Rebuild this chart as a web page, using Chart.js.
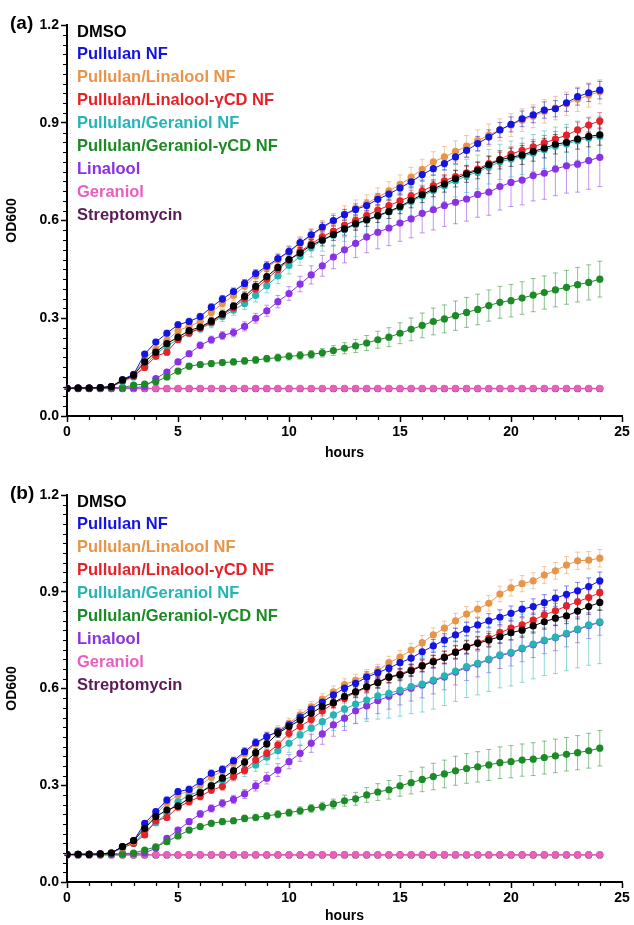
<!DOCTYPE html>
<html lang="en">
<head>
<meta charset="UTF-8">
<title>OD600 growth curves</title>
<script src="https://cdn.jsdelivr.net/npm/chart.js"></script>
<style>
  body { margin: 0; background: #fff; }
  canvas { position: absolute; left: 0; }
</style>
</head>
<body>
<canvas id="grafA" width="634" height="462" style="top:0"></canvas>
<canvas id="grafB" width="634" height="463" style="top:462px"></canvas>
<script>
// ---- eixos ----
const hours = [0,0.5,1,1.5,2,2.5,3,3.5,4,4.5,5,5.5,6,6.5,7,7.5,8,8.5,9,9.5,10,10.5,11,11.5,12,
  12.5,13,13.5,14,14.5,15,15.5,16,16.5,17,17.5,18,18.5,19,19.5,20,20.5,21,21.5,22,22.5,23,23.5,24];
const xTicks = [0, 5, 10, 15, 20, 25];
const yTicks = [0.0, 0.3, 0.6, 0.9, 1.2];

const seriesNames = ['DMSO', 'Pullulan NF', 'Pullulan/Linalool NF', 'Pullulan/Linalool-γCD NF',
  'Pullulan/Geraniol NF', 'Pullulan/Geraniol-γCD NF', 'Linalool', 'Geraniol', 'Streptomycin'];
const seriesColors = ['#000000', '#1414e0', '#e8954a', '#e42228', '#26b4b4', '#1c8a26', '#8a30e6', '#e860bc', '#5c1a56'];

// ---- painel (a) ----
const aDMSO = [0.085,0.086,0.086,0.087,0.09,0.11,0.125,0.166,0.196,0.222,0.242,0.262,0.273,0.291,0.313,0.337,0.367,0.398,0.428,0.456,0.48,0.5,0.524,0.54,0.557,0.574,0.59,0.602,0.615,0.628,0.643,0.662,0.679,0.697,0.712,0.728,0.743,0.754,0.771,0.786,0.794,0.801,0.812,0.822,0.834,0.84,0.85,0.858,0.863];
const aPullulan = [0.085,0.086,0.086,0.087,0.09,0.112,0.128,0.19,0.227,0.254,0.28,0.29,0.305,0.334,0.359,0.382,0.407,0.437,0.46,0.483,0.505,0.532,0.556,0.58,0.6,0.618,0.634,0.646,0.665,0.681,0.7,0.719,0.741,0.759,0.775,0.795,0.815,0.836,0.856,0.878,0.895,0.912,0.924,0.939,0.943,0.961,0.98,0.992,1.0];
const aPulLin = [0.085,0.086,0.086,0.087,0.09,0.11,0.127,0.175,0.205,0.232,0.262,0.275,0.29,0.318,0.345,0.37,0.398,0.43,0.455,0.48,0.503,0.53,0.553,0.577,0.598,0.62,0.637,0.652,0.672,0.69,0.71,0.733,0.757,0.78,0.795,0.812,0.828,0.845,0.862,0.878,0.893,0.908,0.92,0.935,0.945,0.958,0.972,0.985,0.995];
const aPulLinCD = [0.085,0.086,0.086,0.087,0.09,0.108,0.122,0.149,0.183,0.196,0.235,0.255,0.27,0.288,0.31,0.332,0.36,0.39,0.42,0.45,0.478,0.505,0.528,0.55,0.567,0.585,0.6,0.615,0.632,0.646,0.66,0.675,0.69,0.707,0.722,0.735,0.746,0.758,0.775,0.788,0.804,0.815,0.826,0.838,0.85,0.862,0.878,0.893,0.906];
const aPulGer = [0.085,0.086,0.086,0.087,0.09,0.105,0.12,0.155,0.19,0.215,0.235,0.255,0.268,0.285,0.305,0.325,0.345,0.37,0.4,0.43,0.462,0.49,0.518,0.538,0.555,0.572,0.588,0.6,0.613,0.626,0.64,0.658,0.675,0.692,0.707,0.722,0.737,0.749,0.765,0.78,0.789,0.797,0.807,0.817,0.828,0.835,0.845,0.853,0.858];
const aPulGerCD = [0.085,0.085,0.085,0.085,0.086,0.087,0.095,0.098,0.105,0.12,0.138,0.153,0.158,0.161,0.164,0.166,0.169,0.172,0.176,0.179,0.183,0.186,0.189,0.194,0.201,0.208,0.215,0.224,0.234,0.242,0.254,0.266,0.278,0.29,0.298,0.308,0.318,0.327,0.339,0.349,0.354,0.362,0.371,0.379,0.387,0.395,0.403,0.41,0.42];
const aLinalool = [0.085,0.085,0.085,0.085,0.086,0.086,0.087,0.09,0.115,0.135,0.166,0.191,0.217,0.234,0.247,0.256,0.275,0.3,0.323,0.351,0.376,0.405,0.433,0.461,0.488,0.51,0.53,0.549,0.564,0.577,0.592,0.605,0.622,0.633,0.646,0.656,0.666,0.68,0.687,0.704,0.717,0.724,0.738,0.745,0.758,0.768,0.773,0.784,0.794];
const aGeraniol = [0.085,0.085,0.085,0.085,0.085,0.085,0.085,0.085,0.085,0.085,0.085,0.085,0.085,0.085,0.085,0.085,0.085,0.085,0.085,0.085,0.085,0.085,0.085,0.085,0.085,0.085,0.085,0.085,0.085,0.085,0.085,0.085,0.085,0.085,0.085,0.085,0.085,0.085,0.085,0.085,0.085,0.085,0.085,0.085,0.085,0.085,0.085,0.085,0.085];
const aStrepto = [0.084,0.084,0.084,0.084,0.084,0.084,0.084,0.084,0.084,0.084,0.084,0.084,0.084,0.084,0.084,0.084,0.084,0.084,0.084,0.084,0.084,0.084,0.084,0.084,0.084,0.084,0.084,0.084,0.084,0.084,0.084,0.084,0.084,0.084,0.084,0.084,0.084,0.084,0.084,0.084,0.084,0.084,0.084,0.084,0.084,0.084,0.084,0.084,0.084];

const aErrDMSO = [0.003,0.003,0.003,0.003,0.004,0.005,0.006,0.008,0.009,0.01,0.01,0.01,0.011,0.011,0.012,0.012,0.013,0.014,0.015,0.015,0.016,0.016,0.017,0.018,0.018,0.019,0.02,0.02,0.021,0.022,0.022,0.023,0.024,0.024,0.025,0.025,0.026,0.026,0.027,0.028,0.028,0.029,0.03,0.03,0.03,0.03,0.031,0.032,0.032];
const aErrPullulan = [0.003,0.003,0.003,0.003,0.004,0.005,0.006,0.008,0.008,0.009,0.009,0.01,0.01,0.01,0.011,0.011,0.012,0.012,0.013,0.013,0.014,0.014,0.015,0.015,0.016,0.016,0.017,0.017,0.018,0.018,0.019,0.019,0.02,0.02,0.02,0.021,0.021,0.022,0.022,0.023,0.023,0.024,0.024,0.025,0.025,0.026,0.026,0.027,0.027];
const aErrPulLin = [0.003,0.003,0.003,0.003,0.004,0.005,0.006,0.008,0.009,0.01,0.01,0.011,0.012,0.013,0.014,0.015,0.016,0.017,0.018,0.019,0.02,0.021,0.022,0.023,0.024,0.025,0.026,0.027,0.028,0.029,0.03,0.03,0.031,0.031,0.032,0.032,0.033,0.033,0.034,0.034,0.035,0.035,0.035,0.036,0.036,0.036,0.037,0.037,0.037];
const aErrPulLinCD = [0.003,0.003,0.003,0.003,0.004,0.005,0.006,0.008,0.008,0.009,0.009,0.01,0.01,0.01,0.011,0.011,0.012,0.012,0.012,0.013,0.013,0.014,0.014,0.015,0.015,0.015,0.016,0.016,0.017,0.017,0.018,0.018,0.018,0.019,0.019,0.02,0.02,0.02,0.021,0.021,0.022,0.022,0.022,0.023,0.023,0.024,0.024,0.024,0.025];
const aErrPulGer = [0.003,0.003,0.003,0.003,0.004,0.005,0.006,0.008,0.009,0.01,0.011,0.012,0.013,0.014,0.015,0.016,0.018,0.02,0.022,0.024,0.026,0.028,0.03,0.032,0.034,0.036,0.038,0.04,0.042,0.043,0.045,0.046,0.047,0.048,0.049,0.05,0.051,0.052,0.053,0.054,0.055,0.056,0.057,0.058,0.059,0.06,0.06,0.061,0.062];
const aErrPulGerCD = [0.002,0.002,0.002,0.002,0.003,0.003,0.004,0.005,0.006,0.007,0.008,0.008,0.008,0.009,0.009,0.009,0.01,0.01,0.01,0.011,0.011,0.012,0.012,0.013,0.015,0.017,0.02,0.023,0.026,0.029,0.032,0.035,0.038,0.041,0.043,0.045,0.046,0.047,0.048,0.049,0.05,0.05,0.051,0.051,0.052,0.052,0.053,0.054,0.055];
const aErrLinalool = [0.002,0.002,0.002,0.002,0.003,0.003,0.004,0.005,0.006,0.007,0.008,0.009,0.01,0.011,0.012,0.013,0.014,0.015,0.017,0.019,0.021,0.024,0.028,0.032,0.036,0.04,0.044,0.048,0.051,0.054,0.056,0.058,0.06,0.062,0.064,0.066,0.068,0.07,0.071,0.072,0.074,0.076,0.078,0.08,0.082,0.084,0.086,0.088,0.09];
const aErrGeraniol = [0.002,0.002,0.002,0.002,0.002,0.002,0.002,0.002,0.002,0.002,0.002,0.002,0.002,0.002,0.002,0.002,0.002,0.002,0.002,0.002,0.002,0.002,0.002,0.002,0.002,0.002,0.002,0.002,0.002,0.002,0.002,0.002,0.002,0.002,0.002,0.002,0.002,0.002,0.002,0.002,0.002,0.002,0.002,0.002,0.002,0.002,0.002,0.002,0.002];
const aErrStrepto = aErrGeraniol;

// ---- painel (b) ----
const bDMSO = [0.085,0.086,0.086,0.087,0.09,0.11,0.128,0.166,0.203,0.223,0.236,0.26,0.277,0.298,0.322,0.345,0.371,0.401,0.428,0.461,0.482,0.502,0.523,0.544,0.556,0.575,0.59,0.606,0.618,0.635,0.642,0.655,0.67,0.683,0.696,0.712,0.728,0.74,0.75,0.761,0.773,0.781,0.794,0.807,0.818,0.825,0.84,0.854,0.867];
const bPullulan = [0.085,0.086,0.086,0.087,0.09,0.11,0.128,0.182,0.218,0.254,0.28,0.287,0.311,0.337,0.349,0.376,0.404,0.432,0.451,0.466,0.487,0.511,0.536,0.558,0.58,0.601,0.616,0.635,0.649,0.663,0.68,0.694,0.714,0.732,0.75,0.766,0.784,0.797,0.81,0.821,0.833,0.846,0.854,0.866,0.88,0.892,0.903,0.916,0.934];
const bPulLin = [0.085,0.086,0.086,0.087,0.09,0.108,0.125,0.175,0.21,0.245,0.27,0.282,0.3,0.325,0.345,0.37,0.398,0.428,0.45,0.47,0.492,0.518,0.543,0.567,0.59,0.612,0.625,0.64,0.655,0.68,0.697,0.719,0.742,0.766,0.787,0.81,0.831,0.846,0.864,0.893,0.912,0.925,0.934,0.952,0.965,0.983,0.996,0.998,1.004];
const bPulLinCD = [0.085,0.086,0.086,0.087,0.09,0.108,0.12,0.146,0.19,0.2,0.232,0.249,0.265,0.285,0.296,0.327,0.347,0.378,0.399,0.425,0.461,0.482,0.504,0.53,0.554,0.57,0.588,0.603,0.62,0.636,0.645,0.658,0.672,0.685,0.698,0.714,0.73,0.742,0.756,0.773,0.787,0.797,0.812,0.828,0.841,0.856,0.869,0.882,0.897];
const bPulGer = [0.085,0.086,0.086,0.087,0.09,0.105,0.12,0.156,0.184,0.213,0.249,0.27,0.28,0.3,0.315,0.329,0.345,0.363,0.387,0.407,0.43,0.456,0.477,0.497,0.518,0.536,0.552,0.564,0.577,0.585,0.595,0.606,0.614,0.626,0.639,0.654,0.668,0.678,0.691,0.704,0.712,0.725,0.738,0.75,0.759,0.771,0.784,0.797,0.807];
const bPulGerCD = [0.085,0.085,0.085,0.085,0.086,0.087,0.09,0.099,0.109,0.125,0.143,0.161,0.172,0.182,0.187,0.19,0.197,0.2,0.205,0.21,0.215,0.221,0.228,0.234,0.242,0.252,0.258,0.27,0.279,0.286,0.298,0.308,0.318,0.327,0.335,0.345,0.352,0.357,0.363,0.37,0.373,0.378,0.381,0.386,0.391,0.396,0.401,0.407,0.415];
const bLinalool = [0.085,0.085,0.086,0.086,0.087,0.087,0.088,0.09,0.105,0.135,0.161,0.187,0.211,0.228,0.244,0.256,0.273,0.298,0.322,0.347,0.373,0.399,0.43,0.459,0.487,0.508,0.531,0.546,0.562,0.576,0.589,0.601,0.611,0.623,0.636,0.651,0.665,0.676,0.689,0.702,0.71,0.723,0.736,0.748,0.757,0.769,0.782,0.795,0.805];
const bGeraniol = [0.085,0.085,0.085,0.085,0.085,0.085,0.085,0.085,0.085,0.085,0.085,0.085,0.085,0.085,0.085,0.085,0.085,0.085,0.085,0.085,0.085,0.085,0.085,0.085,0.085,0.085,0.085,0.085,0.085,0.085,0.085,0.085,0.085,0.085,0.085,0.085,0.085,0.085,0.085,0.085,0.085,0.085,0.085,0.085,0.085,0.085,0.085,0.085,0.085];
const bStrepto = aStrepto;

const bErrDMSO = aErrPulLinCD;
const bErrPullulan = aErrPullulan;
const bErrPulLin = [0.003,0.003,0.003,0.003,0.004,0.005,0.006,0.008,0.009,0.01,0.01,0.011,0.012,0.012,0.013,0.013,0.014,0.014,0.015,0.015,0.016,0.016,0.017,0.017,0.018,0.018,0.019,0.019,0.02,0.02,0.021,0.021,0.022,0.022,0.022,0.023,0.023,0.024,0.024,0.024,0.025,0.025,0.025,0.026,0.026,0.026,0.027,0.027,0.027];
const bErrPulLinCD = aErrPulLinCD;
const bErrPulGer = [0.003,0.003,0.003,0.003,0.004,0.005,0.006,0.008,0.009,0.01,0.011,0.012,0.013,0.014,0.015,0.016,0.018,0.02,0.022,0.025,0.028,0.032,0.037,0.042,0.048,0.054,0.06,0.066,0.072,0.077,0.081,0.084,0.087,0.09,0.092,0.094,0.096,0.098,0.1,0.102,0.104,0.106,0.108,0.11,0.113,0.116,0.12,0.125,0.13];
const bErrPulGerCD = aErrPulGerCD;
const bErrLinalool = [0.002,0.002,0.002,0.002,0.003,0.003,0.004,0.005,0.006,0.007,0.008,0.009,0.01,0.011,0.012,0.013,0.014,0.016,0.018,0.02,0.022,0.025,0.028,0.032,0.035,0.038,0.04,0.04,0.04,0.04,0.04,0.04,0.04,0.04,0.04,0.04,0.04,0.04,0.04,0.04,0.04,0.04,0.04,0.04,0.04,0.04,0.04,0.04,0.04];
const bErrGeraniol = aErrGeraniol;
const bErrStrepto = aErrGeraniol;

const valoresA = [aDMSO, aPullulan, aPulLin, aPulLinCD, aPulGer, aPulGerCD, aLinalool, aGeraniol, aStrepto];
const errosA = [aErrDMSO, aErrPullulan, aErrPulLin, aErrPulLinCD, aErrPulGer, aErrPulGerCD, aErrLinalool, aErrGeraniol, aErrStrepto];
const valoresB = [bDMSO, bPullulan, bPulLin, bPulLinCD, bPulGer, bPulGerCD, bLinalool, bGeraniol, bStrepto];
const errosB = [bErrDMSO, bErrPullulan, bErrPulLin, bErrPulLinCD, bErrPulGer, bErrPulGerCD, bErrLinalool, bErrGeraniol, bErrStrepto];

const FONTE = '"Liberation Sans", Arial, sans-serif';

function comAlfa(hex, a) {
    const n = parseInt(hex.slice(1), 16);
    return `rgba(${(n >> 16) & 255},${(n >> 8) & 255},${n & 255},${a})`;
}

// barras de erro, desenhadas antes dos pontos
const barrasErro = {
    id: 'barrasErro',
    beforeDatasetsDraw(chart) {
        const ctx = chart.ctx;
        const sx = chart.scales.x, sy = chart.scales.y;
        const dsets = chart.data.datasets;
        for (let d = dsets.length - 1; d >= 0; d--) {
            const ds = dsets[d];
            ctx.save();
            ctx.strokeStyle = comAlfa(ds.borderColor, 0.5);
            ctx.lineWidth = 1;
            ds.data.forEach((p, i) => {
                const e = ds.erros[i];
                const px = sx.getPixelForValue(p.x);
                const t = sy.getPixelForValue(p.y + e), b = sy.getPixelForValue(p.y - e);
                ctx.beginPath();
                ctx.moveTo(px, t); ctx.lineTo(px, b);
                ctx.moveTo(px - 2.5, t); ctx.lineTo(px + 2.5, t);
                ctx.moveTo(px - 2.5, b); ctx.lineTo(px + 2.5, b);
                ctx.stroke();
            });
            ctx.restore();
        }
    }
};

// ticks menores, legenda em texto e rótulo do painel
const enfeites = {
    id: 'enfeites',
    afterDraw(chart, args, opts) {
        const ctx = chart.ctx;
        const area = chart.chartArea;
        const sx = chart.scales.x, sy = chart.scales.y;
        ctx.save();
        ctx.strokeStyle = '#000';
        ctx.lineWidth = 1.2;
        ctx.beginPath();
        for (let k = 1; k < 40; k++) {
            if (k % 10 === 0) continue;
            const py = Math.round(sy.getPixelForValue(k * 0.03)) + 0.5;
            ctx.moveTo(area.left - 1, py); ctx.lineTo(area.left - 4, py);
        }
        for (let h = 1; h < 25; h++) {
            if (h % 5 === 0) continue;
            const px = Math.round(sx.getPixelForValue(h)) + 0.5;
            ctx.moveTo(px, area.bottom + 1); ctx.lineTo(px, area.bottom + 4);
        }
        ctx.stroke();

        ctx.textBaseline = 'middle';
        ctx.textAlign = 'left';
        ctx.font = 'bold 16.5px ' + FONTE;
        chart.data.datasets.forEach((ds, i) => {
            ctx.fillStyle = ds.borderColor;
            ctx.fillText(ds.label, area.left + 10, area.top + 7 + i * 22.9);
        });

        ctx.fillStyle = '#000';
        ctx.font = 'bold 19px ' + FONTE;
        ctx.fillText(opts.painel, 10, area.top - 1);
        ctx.restore();
    }
};

function criarGrafico(id, painel, valores, erros, topo, alturaX) {
    const datasets = valores.map((vals, i) => ({
        label: seriesNames[i],
        data: vals.map((v, j) => ({ x: hours[j], y: v })),
        erros: erros[i],
        borderColor: seriesColors[i],
        backgroundColor: seriesColors[i],
        pointBackgroundColor: seriesColors[i],
        pointBorderColor: seriesColors[i],
        borderWidth: 1,
        pointRadius: 3.6,
        pointBorderWidth: 0,
        tension: 0
    }));

    return new Chart(document.getElementById(id), {
        type: 'line',
        data: { datasets },
        plugins: [barrasErro, enfeites],
        options: {
            responsive: false,
            animation: false,
            devicePixelRatio: 1,
            layout: { padding: { top: topo, right: 12, left: 0, bottom: 0 } },
            plugins: {
                legend: { display: false },
                tooltip: { enabled: false },
                enfeites: { painel }
            },
            scales: {
                x: {
                    type: 'linear',
                    min: 0, max: 25,
                    afterBuildTicks: s => { s.ticks = xTicks.map(v => ({ value: v })); },
                    afterFit: s => { s.height = alturaX; },
                    border: { display: true, color: '#000', width: 2 },
                    grid: { drawOnChartArea: false, drawTicks: true, tickLength: 6, tickWidth: 1.5, tickColor: '#000' },
                    ticks: { color: '#000', padding: 2, maxRotation: 0, font: { family: FONTE, size: 14, weight: 'bold' }, callback: v => String(v) },
                    title: { display: true, text: 'hours', color: '#000', padding: { top: 0, bottom: 0 }, font: { family: FONTE, size: 14, weight: 'bold' } }
                },
                y: {
                    min: 0, max: 1.2,
                    afterBuildTicks: s => { s.ticks = yTicks.map(v => ({ value: v })); },
                    afterFit: s => { s.width = 67; },
                    border: { display: true, color: '#000', width: 2 },
                    grid: { drawOnChartArea: false, drawTicks: true, tickLength: 6, tickWidth: 1.5, tickColor: '#000' },
                    ticks: { color: '#000', padding: 2, font: { family: FONTE, size: 14, weight: 'bold' }, callback: v => Number(v).toFixed(1) },
                    title: { display: true, text: 'OD600', color: '#000', padding: { top: 4, bottom: 0 }, font: { family: FONTE, size: 14, weight: 'bold' } }
                }
            }
        }
    });
}

criarGrafico('grafA', '(a)', valoresA, errosA, 25, 46);
criarGrafico('grafB', '(b)', valoresB, errosB, 33, 43);
</script>
</body>
</html>
